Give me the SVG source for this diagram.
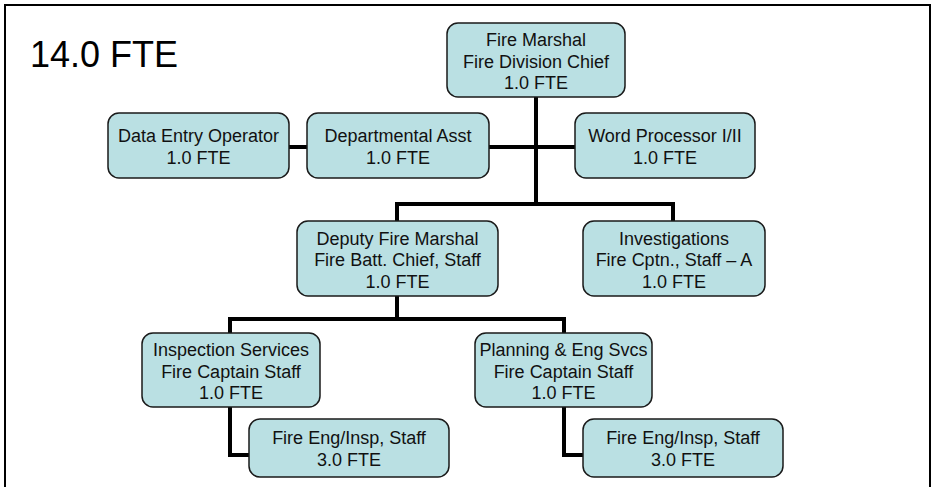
<svg xmlns="http://www.w3.org/2000/svg" width="935" height="487" viewBox="0 0 935 487">
<style>
.box{fill:#bae0e3;stroke:#1a1a1a;stroke-width:1.5}
.t{font-family:"Liberation Sans",Arial,sans-serif;font-size:18px;fill:#111;text-anchor:middle}
.c{fill:none;stroke:#000;stroke-width:4;stroke-linejoin:miter}
</style>
<rect width="935" height="487" fill="#fff"/>
<path d="M5,490 V5 H930 V490" fill="none" stroke="#000" stroke-width="2"/>
<text x="30" y="67" font-family="Liberation Sans,Arial,sans-serif" font-size="36" fill="#000">14.0 FTE</text>
<g id="connectors">
<path class="c" d="M536,97 V204"/>
<path class="c" d="M289,147 H307"/>
<path class="c" d="M489,147 H575"/>
<path class="c" d="M397,221 V204 H673 V221"/>
<path class="c" d="M397,296 V319"/>
<path class="c" d="M230,333 V319 H564 V333"/>
<path class="c" d="M230,407 V455 H249"/>
<path class="c" d="M564,407 V455 H583"/>
</g>
<g id="fire-marshal">
<rect class="box" x="447" y="23" width="178" height="74" rx="11"/>
<text class="t" x="536" y="46">Fire Marshal</text>
<text class="t" x="536" y="67.5">Fire Division Chief</text>
<text class="t" x="536" y="89">1.0 FTE</text>
</g>
<g id="data-entry">
<rect class="box" x="108" y="113" width="181" height="65" rx="11"/>
<text class="t" x="198.5" y="142">Data Entry Operator</text>
<text class="t" x="198.5" y="164">1.0 FTE</text>
</g>
<g id="dept-asst">
<rect class="box" x="307" y="113" width="182" height="65" rx="11"/>
<text class="t" x="398" y="142">Departmental Asst</text>
<text class="t" x="398" y="164">1.0 FTE</text>
</g>
<g id="word-processor">
<rect class="box" x="575" y="113" width="180" height="65" rx="11"/>
<text class="t" x="665" y="142">Word Processor I/II</text>
<text class="t" x="665" y="164">1.0 FTE</text>
</g>
<g id="deputy">
<rect class="box" x="297" y="221" width="201" height="75" rx="11"/>
<text class="t" x="397.5" y="244.5">Deputy Fire Marshal</text>
<text class="t" x="397.5" y="266">Fire Batt. Chief, Staff</text>
<text class="t" x="397.5" y="287.5">1.0 FTE</text>
</g>
<g id="investigations">
<rect class="box" x="583" y="221" width="182" height="75" rx="11"/>
<text class="t" x="674" y="244.5">Investigations</text>
<text class="t" x="674" y="266">Fire Cptn., Staff – A</text>
<text class="t" x="674" y="287.5">1.0 FTE</text>
</g>
<g id="inspection">
<rect class="box" x="142" y="333" width="178" height="74" rx="11"/>
<text class="t" x="231" y="356">Inspection Services</text>
<text class="t" x="231" y="377.5">Fire Captain Staff</text>
<text class="t" x="231" y="399">1.0 FTE</text>
</g>
<g id="planning">
<rect class="box" x="475" y="333" width="177" height="74" rx="11"/>
<text class="t" x="563.5" y="356">Planning &amp; Eng Svcs</text>
<text class="t" x="563.5" y="377.5">Fire Captain Staff</text>
<text class="t" x="563.5" y="399">1.0 FTE</text>
</g>
<g id="fire-eng-1">
<rect class="box" x="249" y="419" width="200" height="58" rx="11"/>
<text class="t" x="349" y="444">Fire Eng/Insp, Staff</text>
<text class="t" x="349" y="466">3.0 FTE</text>
</g>
<g id="fire-eng-2">
<rect class="box" x="583" y="419" width="200" height="58" rx="11"/>
<text class="t" x="683" y="444">Fire Eng/Insp, Staff</text>
<text class="t" x="683" y="466">3.0 FTE</text>
</g>
</svg>
